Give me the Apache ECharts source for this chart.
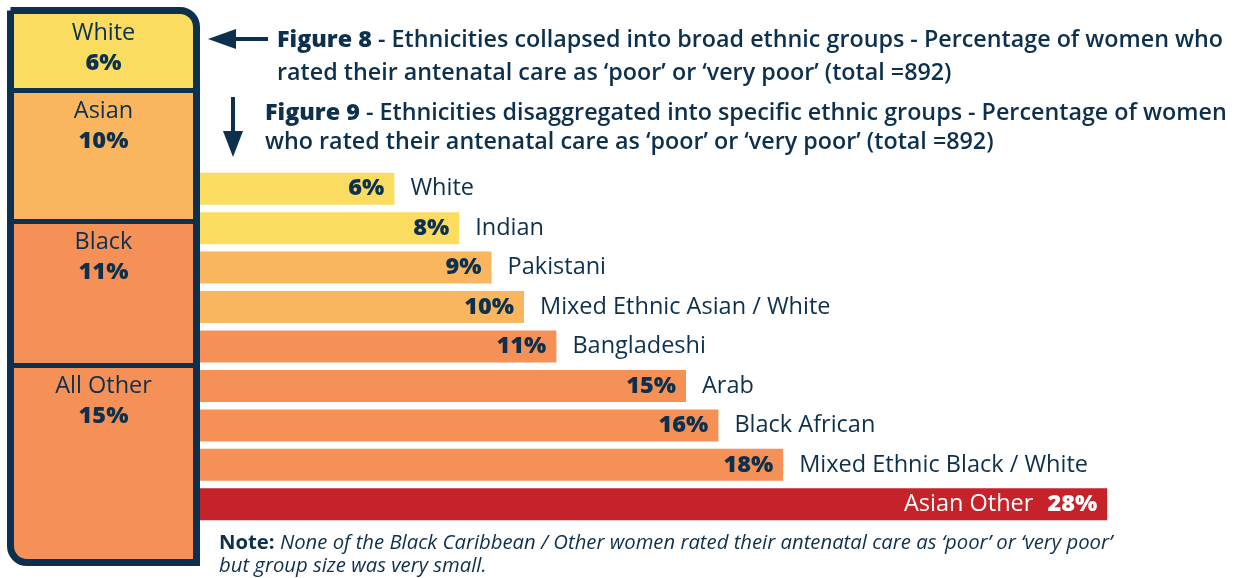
<!DOCTYPE html>
<html>
<head>
<meta charset="utf-8">
<script src="https://cdn.jsdelivr.net/npm/echarts@6/dist/echarts.min.js"></script>
<style>
html,body{margin:0;padding:0;background:#fff;}
#chart{width:1244px;height:578px;}
</style>
</head>
<body>
<div id="chart"></div>
<script>
// ---- data ----
const broadGroups = ['White', 'Asian', 'Black', 'All Other'];
const broadValues = [6, 10, 11, 15];
const categories = ['White', 'Indian', 'Pakistani', 'Mixed Ethnic Asian / White', 'Bangladeshi', 'Arab', 'Black African', 'Mixed Ethnic Black / White', 'Asian Other'];
const values = [6, 8, 9, 10, 11, 15, 16, 18, 28];
const fig8Title = ['Figure 8', ' - Ethnicities collapsed into broad ethnic groups - Percentage of women who', 'rated their antenatal care as ‘poor’ or ‘very poor’ (total =892)'];
const fig9Title = ['Figure 9', ' - Ethnicities disaggregated into specific ethnic groups - Percentage of women', 'who rated their antenatal care as ‘poor’ or ‘very poor’ (total =892)'];
const noteText = ['Note:', ' None of the Black Caribbean / Other women rated their antenatal care as ‘poor’ or ‘very poor’', 'but group size was very small.'];

// ---- styles ----
const NAVY = '#0C304D';
const YELLOW = '#F9DC60', LORANGE = '#F9B65F', ORANGE = '#F59156', RED = '#C62229';
const broadColors = [YELLOW, LORANGE, ORANGE, ORANGE];
const barColors = [YELLOW, YELLOW, LORANGE, LORANGE, ORANGE, ORANGE, ORANGE, ORANGE, RED];
const FONT = 'Open Sans';
const FS = 23.5;
const highlightIndex = values.length - 1;

// cumulative boundaries between broad groups (for divider lines)
const boundaries = [];
broadValues.slice(0, -1).reduce((acc, v) => { boundaries.push(acc + v); return acc + v; }, 0);

const chart = echarts.init(document.getElementById('chart'), null, {renderer: 'canvas'});

const leftSeries = broadGroups.map((g, i) => ({
  type: 'bar', name: g, stack: 'broad', xAxisIndex: 0, yAxisIndex: 0,
  barWidth: '100%', silent: true,
  data: [broadValues[i]],
  itemStyle: {
    color: broadColors[i], borderWidth: 0,
    borderRadius: i === 0 ? [0, 13, 0, 0] : (i === broadGroups.length - 1 ? [0, 0, 0, 13] : 0)
  },
  label: {
    show: true, position: 'insideTop', distance: 6,
    formatter: p => '{n|' + p.seriesName + '}\n{b|' + p.value + '%}',
    rich: {
      n: {fontFamily: FONT, fontSize: FS, color: NAVY, lineHeight: 30, align: 'center'},
      b: {fontFamily: FONT, fontSize: FS, fontWeight: 800, color: NAVY, lineHeight: 30, align: 'center'}
    }
  },
  markLine: i === broadGroups.length - 1 ? {
    silent: true, symbol: 'none', z: 10,
    label: {show: false},
    lineStyle: {color: NAVY, width: 5, type: 'solid'},
    data: boundaries.map(b => ({yAxis: b}))
  } : undefined
}));

const nameSeries = {
  type: 'bar', xAxisIndex: 1, yAxisIndex: 1, barWidth: 32, silent: true,
  data: values.map((v, i) => ({
    value: v,
    itemStyle: {color: barColors[i]},
    label: {show: i !== highlightIndex}
  })),
  label: {
    position: 'right', distance: 16,
    formatter: p => categories[p.dataIndex],
    fontFamily: FONT, fontSize: FS, color: NAVY
  }
};
const valueSeries = {
  type: 'bar', xAxisIndex: 1, yAxisIndex: 1, barWidth: 32, barGap: '-100%', silent: true,
  itemStyle: {color: 'rgba(0,0,0,0)'},
  data: values,
  label: {
    show: true, position: 'insideRight', distance: 10,
    formatter: p => p.dataIndex === highlightIndex
      ? '{w|' + categories[p.dataIndex] + '}{wb|' + p.value + '%}'
      : '{b|' + p.value + '%}',
    rich: {
      b: {fontFamily: FONT, fontSize: FS, fontWeight: 800, color: NAVY},
      w: {fontFamily: FONT, fontSize: FS, color: '#fff'},
      wb: {fontFamily: FONT, fontSize: FS, fontWeight: 800, color: '#fff', padding: [0, 0, 0, 14]}
    }
  }
};

const titleRich8 = {
  b: {fontFamily: FONT, fontSize: 23.3, fontWeight: 800, fill: NAVY, lineHeight: 33},
  n: {fontFamily: FONT, fontSize: 23.3, fontWeight: 600, fill: NAVY, lineHeight: 33}
};
const titleRich9 = {
  b: {fontFamily: FONT, fontSize: 23.3, fontWeight: 800, fill: NAVY, lineHeight: 29},
  n: {fontFamily: FONT, fontSize: 23.3, fontWeight: 600, fill: NAVY, lineHeight: 29}
};

chart.setOption({
  animation: false,
  grid: [
    {left: 12, top: 12, width: 183, height: 549},
    {left: 200, top: 169, width: 972, height: 355}
  ],
  xAxis: [
    {type: 'category', gridIndex: 0, data: ['Broad'], show: false},
    {type: 'value', gridIndex: 1, min: 0, max: 30, show: false}
  ],
  yAxis: [
    {type: 'value', gridIndex: 0, min: 0, max: 42, inverse: true, show: false},
    {type: 'category', gridIndex: 1, data: categories, inverse: true, show: false}
  ],
  series: leftSeries.concat([nameSeries, valueSeries]),
  graphic: [
    {type: 'rect', z: 100, shape: {x: 10.5, y: 10.5, width: 186, height: 552, r: [0, 16.5, 0, 16.5]},
      style: {fill: null, stroke: NAVY, lineWidth: 7}},
    // left arrow
    {type: 'line', z: 100, shape: {x1: 230, y1: 39, x2: 268, y2: 39}, style: {stroke: NAVY, lineWidth: 4}},
    {type: 'polygon', z: 100, shape: {points: [[208, 39], [236, 29], [236, 49]]}, style: {fill: NAVY}},
    // down arrow
    {type: 'line', z: 100, shape: {x1: 233, y1: 97, x2: 233, y2: 135}, style: {stroke: NAVY, lineWidth: 4}},
    {type: 'polygon', z: 100, shape: {points: [[233, 157], [223, 131], [243, 131]]}, style: {fill: NAVY}},
    {type: 'text', z: 100, x: 277, y: 24, style: {
      text: '{b|' + fig8Title[0] + '}{n|' + fig8Title[1] + '}\n{n|' + fig8Title[2] + '}', rich: titleRich8}},
    {type: 'text', z: 100, x: 265, y: 99, style: {
      text: '{b|' + fig9Title[0] + '}{n|' + fig9Title[1] + '}\n{n|' + fig9Title[2] + '}', rich: titleRich9}},
    {type: 'text', z: 100, x: 219, y: 532, style: {
      text: '{b|' + noteText[0] + '}{i|' + noteText[1] + '}\n{i|' + noteText[2] + '}',
      rich: {
        b: {fontFamily: FONT, fontSize: 20.3, fontWeight: 700, fill: NAVY, lineHeight: 23},
        i: {fontFamily: FONT, fontSize: 20.3, fontStyle: 'italic', fill: NAVY, lineHeight: 23}
      }}}
  ]
});
</script>
</body>
</html>
